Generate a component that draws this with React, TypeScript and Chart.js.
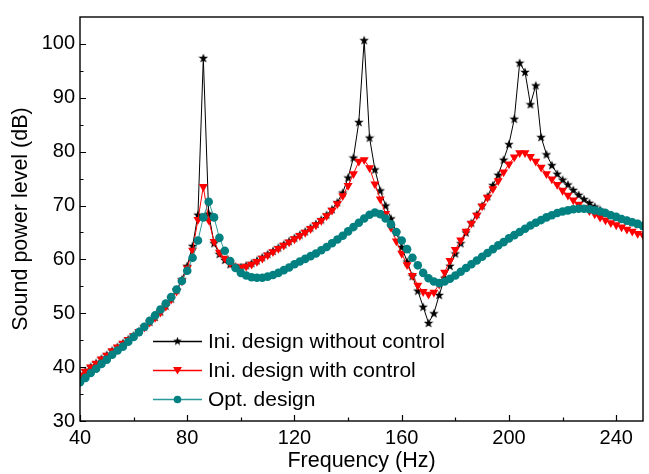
import React, { useEffect, useRef } from "react";
import { Chart, registerables } from "chart.js";

Chart.register(...registerables);

// Frequency (Hz)
const frequencies = [
  40, 42, 44, 46, 48, 50, 52, 54, 56, 58,
  60, 62, 64, 66, 68, 70, 72, 74, 76, 78,
  80, 82, 84, 86, 88, 90, 92, 94, 96, 98,
  100, 102, 104, 106, 108, 110, 112, 114, 116, 118,
  120, 122, 124, 126, 128, 130, 132, 134, 136, 138,
  140, 142, 144, 146, 148, 150, 152, 154, 156, 158,
  160, 162, 164, 166, 168, 170, 172, 174, 176, 178,
  180, 182, 184, 186, 188, 190, 192, 194, 196, 198,
  200, 202, 204, 206, 208, 210, 212, 214, 216, 218,
  220, 222, 224, 226, 228, 230, 232, 234, 236, 238,
  240, 242, 244, 246, 248, 250,
];

// Ini. design without control (dB)
const withoutControl = [
  38.6, 39.3, 40.1, 40.8, 41.6, 42.3, 43.1, 43.8, 44.5, 45.2,
  45.9, 46.7, 47.5, 48.4, 49.3, 50.3, 51.4, 52.7, 54.3, 56.3,
  58.8, 62.5, 68.3, 97.4, 68.5, 63.0, 61.0, 59.9, 59.1, 58.7,
  58.6, 58.9, 59.3, 59.8, 60.4, 61.0, 61.6, 62.2, 62.8, 63.4,
  64.0, 64.6, 65.2, 65.9, 66.6, 67.4, 68.3, 69.3, 70.6, 72.4,
  75.2, 78.9, 85.5, 100.7, 82.6, 76.7, 72.8, 70.0, 67.6, 65.0,
  62.3, 59.6, 56.9, 54.2, 51.2, 48.2, 50.0, 53.4, 56.6, 58.8,
  61.1, 63.0, 65.0, 66.8, 68.4, 70.0, 71.7, 73.8, 75.7, 78.5,
  81.4, 86.1, 96.5, 94.8, 88.8, 92.3, 82.7, 79.5, 77.5, 75.9,
  74.8, 73.9, 72.9, 72.0, 71.2, 70.5, 69.8, 69.2, 68.7, 68.2,
  67.8, 67.5, 67.2, 66.9, 66.6, 66.3,
];

// Ini. design with control (dB)
const withControl = [
  38.5, 39.2, 40.0, 40.7, 41.5, 42.2, 43.0, 43.7, 44.4, 45.1,
  45.8, 46.6, 47.4, 48.3, 49.2, 50.2, 51.3, 52.6, 54.1, 56.0,
  58.4, 61.7, 67.4, 73.5, 67.3, 63.3, 61.3, 60.2, 59.3, 58.7,
  58.5, 58.7, 59.1, 59.6, 60.2, 60.8, 61.4, 62.0, 62.6, 63.2,
  63.8, 64.4, 65.0, 65.7, 66.4, 67.2, 68.1, 69.1, 70.3, 71.8,
  73.7, 75.9, 78.2, 78.5, 77.0, 74.0, 71.2, 68.5, 65.9, 63.4,
  61.1, 59.0, 57.0, 55.2, 54.0, 53.5, 53.9, 55.4, 57.6, 59.8,
  61.8, 63.6, 65.2, 66.7, 68.2, 69.9, 71.5, 73.1, 74.6, 76.2,
  77.7, 79.0, 79.8, 79.8, 79.1, 78.2, 77.1, 75.9, 74.9, 73.9,
  72.8, 71.9, 71.0, 70.2, 69.6, 69.0, 68.4, 67.8, 67.3, 66.8,
  66.4, 66.0, 65.6, 65.2, 64.8, 64.5,
];

// Opt. design (dB)
const optDesign = [
  37.2, 38.0, 38.9, 39.7, 40.6, 41.4, 42.3, 43.1, 43.8, 44.7,
  45.6, 46.5, 47.5, 48.6, 49.6, 50.7, 51.8, 53.0, 54.4, 56.0,
  57.9, 60.3, 63.5, 67.8, 70.7, 67.8, 64.0, 61.6, 59.7, 58.4,
  57.5, 57.0, 56.7, 56.6, 56.6, 56.8, 57.1, 57.5, 58.0, 58.5,
  59.1, 59.6, 60.1, 60.6, 61.1, 61.7, 62.3, 63.0, 63.7, 64.4,
  65.2, 66.0, 66.8, 67.6, 68.3, 68.7, 68.4, 67.6, 66.5, 65.1,
  63.5, 61.9, 60.3, 58.9, 57.5, 56.5, 55.9, 55.6, 55.9, 56.4,
  57.0, 57.7, 58.4, 59.1, 59.8, 60.5, 61.2, 61.9, 62.6, 63.2,
  63.9, 64.5, 65.1, 65.7, 66.3, 66.8, 67.3, 67.8, 68.2, 68.6,
  68.9, 69.1, 69.3, 69.4, 69.4, 69.3, 69.1, 68.9, 68.6, 68.2,
  67.9, 67.5, 67.2, 66.9, 66.6, 66.2,
];

const seriesLabels = [
  "Ini. design without control",
  "Ini. design with control",
  "Opt. design",
];

const xTicks = [40, 80, 120, 160, 200, 240];
const xMinorTicks = [60, 100, 140, 180, 220];
const yTicks = [30, 40, 50, 60, 70, 80, 90, 100];
const yMinorTicks = [35, 45, 55, 65, 75, 85, 95];

const FONT = "'Liberation Sans', Arial, sans-serif";
const TEAL = "#008080";
const TEAL_LINE = "#2a9a9a";

function makeStar(size: number, color: string): HTMLCanvasElement {
  const c = document.createElement("canvas");
  c.width = size;
  c.height = size;
  const ctx = c.getContext("2d")!;
  const cx = size / 2;
  const cy = size / 2 + size * 0.04;
  const R = size / 2;
  const r = R * 0.42;
  ctx.beginPath();
  for (let i = 0; i < 10; i++) {
    const ang = -Math.PI / 2 + (i * Math.PI) / 5;
    const rad = i % 2 === 0 ? R : r;
    ctx.lineTo(cx + rad * Math.cos(ang), cy + rad * Math.sin(ang));
  }
  ctx.closePath();
  ctx.fillStyle = color;
  ctx.fill();
  return c;
}

const framePlugin = {
  id: "frameAndTicks",
  afterDraw(chart: any) {
    const { ctx, chartArea: a, scales } = chart;
    const xs = scales.x;
    const ys = scales.y;
    ctx.save();
    ctx.strokeStyle = "#000";
    ctx.lineWidth = 1.4;
    ctx.strokeRect(a.left, a.top, a.right - a.left, a.bottom - a.top);
    ctx.lineWidth = 1.2;
    ctx.beginPath();
    xTicks.forEach((v) => {
      const px = Math.round(xs.getPixelForValue(v)) + 0.5;
      ctx.moveTo(px, a.bottom);
      ctx.lineTo(px, a.bottom - 6);
    });
    xMinorTicks.forEach((v) => {
      const px = Math.round(xs.getPixelForValue(v)) + 0.5;
      ctx.moveTo(px, a.bottom);
      ctx.lineTo(px, a.bottom - 3.5);
    });
    yTicks.forEach((v) => {
      const py = Math.round(ys.getPixelForValue(v)) + 0.5;
      ctx.moveTo(a.left, py);
      ctx.lineTo(a.left + 6, py);
    });
    yMinorTicks.forEach((v) => {
      const py = Math.round(ys.getPixelForValue(v)) + 0.5;
      ctx.moveTo(a.left, py);
      ctx.lineTo(a.left + 3.5, py);
    });
    ctx.stroke();

    // Legend
    const rows = [341, 370, 399];
    const lineX0 = 153;
    const lineX1 = 202;
    const mx = 177.5;
    const tx = 208;
    const legendStar = makeStar(9, "#000");
    ctx.font = `21px ${FONT}`;
    ctx.textBaseline = "middle";
    ctx.textAlign = "left";
    rows.forEach((y, i) => {
      ctx.lineWidth = 1.3;
      ctx.strokeStyle = i === 0 ? "#000" : i === 1 ? "#ff0000" : TEAL_LINE;
      ctx.beginPath();
      ctx.moveTo(lineX0, y + 0.5);
      ctx.lineTo(lineX1, y + 0.5);
      ctx.stroke();
      if (i === 0) {
        ctx.drawImage(legendStar, mx - 4.5, y - 4.5);
      } else if (i === 1) {
        ctx.fillStyle = "#ff0000";
        ctx.beginPath();
        ctx.moveTo(mx - 4.5, y - 3);
        ctx.lineTo(mx + 4.5, y - 3);
        ctx.lineTo(mx, y + 4.5);
        ctx.closePath();
        ctx.fill();
      } else {
        ctx.fillStyle = TEAL;
        ctx.beginPath();
        ctx.arc(mx, y + 0.5, 3.8, 0, Math.PI * 2);
        ctx.fill();
      }
      ctx.fillStyle = "#000";
      ctx.fillText(seriesLabels[i], tx, y + 1);
    });
    ctx.restore();
  },
};

export default function App() {
  const canvasRef = useRef<HTMLCanvasElement | null>(null);

  useEffect(() => {
    const canvas = canvasRef.current;
    if (!canvas) return;
    const star = makeStar(10, "#000");
    const toPts = (vals: number[]) =>
      frequencies.map((f, i) => ({ x: f, y: vals[i] }));

    const chart = new Chart(canvas, {
      type: "line",
      data: {
        datasets: [
          {
            label: seriesLabels[0],
            data: toPts(withoutControl),
            borderColor: "#000",
            borderWidth: 1,
            pointStyle: star as any,
            pointRadius: 5,
            backgroundColor: "#000",
            tension: 0,
            order: 3,
          },
          {
            label: seriesLabels[1],
            data: toPts(withControl),
            borderColor: "#ff0000",
            borderWidth: 1,
            pointStyle: "triangle",
            pointRotation: 180,
            pointRadius: 5.2,
            pointBackgroundColor: "#ff0000",
            pointBorderColor: "#ff0000",
            pointBorderWidth: 0,
            backgroundColor: "#ff0000",
            tension: 0,
            order: 2,
          },
          {
            label: seriesLabels[2],
            data: toPts(optDesign),
            borderColor: TEAL_LINE,
            borderWidth: 1,
            pointStyle: "circle",
            pointRadius: 4.3,
            pointBackgroundColor: TEAL,
            pointBorderColor: TEAL,
            pointBorderWidth: 0,
            backgroundColor: TEAL,
            tension: 0,
            order: 1,
          },
        ],
      },
      options: {
        animation: false,
        responsive: false,
        devicePixelRatio: 1,
        layout: { padding: { left: 0, right: 4, top: 13, bottom: 0 } },
        plugins: {
          legend: { display: false },
          tooltip: { enabled: false },
        },
        scales: {
          x: {
            type: "linear",
            min: 40,
            max: 250,
            afterBuildTicks: (s: any) => {
              s.ticks = xTicks.map((v) => ({ value: v }));
            },
            afterFit: (s: any) => {
              s.height = 53;
            },
            grid: { display: false, drawTicks: false },
            border: { display: false },
            ticks: {
              color: "#000",
              font: { family: FONT, size: 20 },
              padding: 5,
              maxRotation: 0,
              autoSkip: false,
            },
            title: {
              display: true,
              text: "Frequency (Hz)",
              color: "#000",
              font: { family: FONT, size: 21.5 },
              padding: { top: 0, bottom: 0 },
            },
          },
          y: {
            type: "linear",
            min: 30,
            max: 105,
            afterBuildTicks: (s: any) => {
              s.ticks = yTicks.map((v) => ({ value: v }));
            },
            afterFit: (s: any) => {
              s.width = 80;
            },
            grid: { display: false, drawTicks: false },
            border: { display: false },
            ticks: {
              color: "#000",
              font: { family: FONT, size: 20 },
              padding: 5,
              autoSkip: false,
            },
            title: {
              display: true,
              text: "Sound power level (dB)",
              color: "#000",
              font: { family: FONT, size: 21.5 },
              padding: { top: 8, bottom: 0 },
            },
          },
        },
      },
      plugins: [framePlugin],
    });

    return () => chart.destroy();
  }, []);

  return (
    <div style={{ position: "fixed", left: 0, top: 0, width: 649, height: 474, background: "#fff" }}>
      <canvas ref={canvasRef} width={649} height={474} />
    </div>
  );
}
